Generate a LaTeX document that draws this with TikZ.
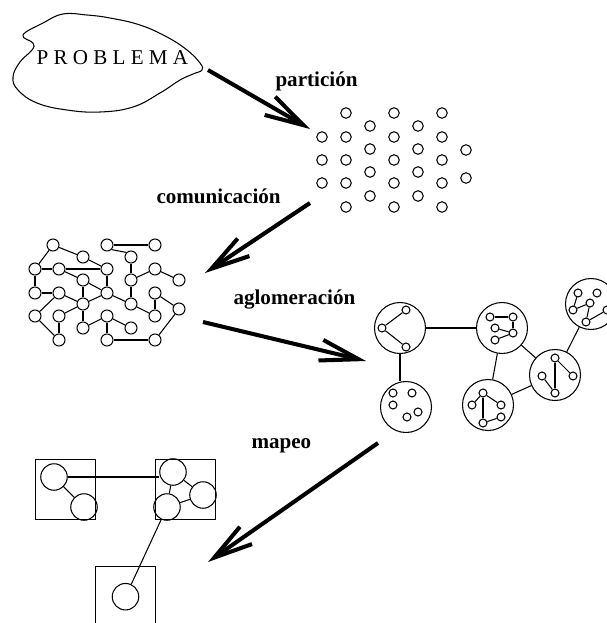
\documentclass[tikz,border=0pt]{standalone}
\usepackage{fontspec}
\setmainfont{Liberation Serif}
\usetikzlibrary{arrows.meta}

\begin{document}
\begin{tikzpicture}[x=0.02cm, y=-0.02cm, line width=0.6pt,
  dot/.style={draw, circle, minimum size=0.21cm, inner sep=0pt},
  tarea/.style={draw, circle, minimum size=0.24cm, inner sep=0pt},
  grupo/.style={draw, circle, minimum size=1.02cm, inner sep=0pt},
  sub/.style={draw, circle, minimum size=0.16cm, inner sep=0pt},
  proc/.style={draw, minimum size=1.2cm, inner sep=0pt},
  cpu/.style={draw, circle, minimum size=0.53cm, inner sep=0pt},
  flecha/.style={line width=2.3pt, -{Straight Barb[length=22pt,width=12pt]}},
  etiqueta/.style={font=\fontsize{12}{14}\selectfont\bfseries, inner sep=0pt, anchor=base west}]
\clip (0,0) rectangle (607,623);
% problema
\draw plot[smooth cycle, tension=0.7] coordinates {(23,35) (43,23) (63,14) (87,15) (110,18) (140,25) (167,37) (187,50) (200,63) (202,70) (193,74) (180,80) (160,93) (133,107) (100,112) (67,110) (37,103) (18,90) (13,77) (20,62) (32,50) (33,43)};
\node[font=\fontsize{12}{14}\selectfont, inner sep=0pt, anchor=base west] (problema) at (36,64) {P R O B L E M A};
% particion
\node[dot] (p1) at (322,137) {};
\node[dot] (p2) at (322,160) {};
\node[dot] (p3) at (322,183) {};
\node[dot] (p4) at (346,113) {};
\node[dot] (p5) at (346,137) {};
\node[dot] (p6) at (346,160) {};
\node[dot] (p7) at (346,183) {};
\node[dot] (p8) at (346,207) {};
\node[dot] (p9) at (370,126) {};
\node[dot] (p10) at (370,149) {};
\node[dot] (p11) at (370,172) {};
\node[dot] (p12) at (370,196) {};
\node[dot] (p13) at (394,113) {};
\node[dot] (p14) at (394,137) {};
\node[dot] (p15) at (394,160) {};
\node[dot] (p16) at (394,183) {};
\node[dot] (p17) at (394,207) {};
\node[dot] (p18) at (418,126) {};
\node[dot] (p19) at (418,149) {};
\node[dot] (p20) at (418,172) {};
\node[dot] (p21) at (418,196) {};
\node[dot] (p22) at (442,113) {};
\node[dot] (p23) at (442,137) {};
\node[dot] (p24) at (442,160) {};
\node[dot] (p25) at (442,183) {};
\node[dot] (p26) at (442,207) {};
\node[dot] (p27) at (466,150) {};
\node[dot] (p28) at (466,178) {};
% comunicacion
\node[tarea] (t1) at (53,245) {};
\node[tarea] (t2) at (107,245) {};
\node[tarea] (t3) at (155,245) {};
\node[tarea] (t4) at (83,257) {};
\node[tarea] (t5) at (131,257) {};
\node[tarea] (t6) at (35,269) {};
\node[tarea] (t7) at (59,269) {};
\node[tarea] (t8) at (107,269) {};
\node[tarea] (t9) at (155,269) {};
\node[tarea] (t10) at (83,280) {};
\node[tarea] (t11) at (131,280) {};
\node[tarea] (t12) at (179,280) {};
\node[tarea] (t13) at (35,293) {};
\node[tarea] (t14) at (59,293) {};
\node[tarea] (t15) at (107,293) {};
\node[tarea] (t16) at (155,293) {};
\node[tarea] (t17) at (83,304) {};
\node[tarea] (t18) at (131,304) {};
\node[tarea] (t19) at (179,309) {};
\node[tarea] (t20) at (35,316) {};
\node[tarea] (t21) at (59,316) {};
\node[tarea] (t22) at (107,316) {};
\node[tarea] (t23) at (155,316) {};
\node[tarea] (t24) at (83,328) {};
\node[tarea] (t25) at (131,328) {};
\node[tarea] (t26) at (59,340) {};
\node[tarea] (t27) at (107,340) {};
\node[tarea] (t28) at (155,340) {};
\draw (t1) -- (t4);
\draw (t1) -- (t6);
\draw (t2) -- (t3);
\draw (t2.south east) -- (t5.north west);
\draw (t4) -- (t8);
\draw (t6) -- (t7);
\draw (t7) -- (t8);
\draw (t7) -- (t10);
\draw (t8) -- (t15);
\draw (t5) -- (t11);
\draw (t11) -- (t9);
\draw (t9) -- (t12);
\draw (t11) -- (t18);
\draw (t10) -- (t15);
\draw (t10) -- (t17);
\draw (t6) -- (t13);
\draw (t13) -- (t14);
\draw (t14) -- (t17);
\draw (t17) -- (t15);
\draw (t15) -- (t18);
\draw (t18) -- (t23);
\draw (t16) -- (t23);
\draw (t16) -- (t19);
\draw (t19) -- (t28);
\draw (t20) -- (t14);
\draw (t21) -- (t17);
\draw (t17) -- (t24);
\draw (t24) -- (t22);
\draw (t22) -- (t25);
\draw (t22) -- (t27);
\draw (t21) -- (t26);
\draw (t20) -- (t26);
\draw (t27) -- (t28);
% aglomeracion
\node[grupo] (g1) at (400,328) {};
\node[grupo] (g2) at (502,328) {};
\node[grupo] (g3) at (406,407) {};
\node[grupo] (g4) at (488,405) {};
\node[grupo] (g5) at (555,375) {};
\node[grupo] (g6) at (591,304) {};
\node[sub] (s1a) at (406,310) {};
\node[sub] (s1b) at (382,328) {};
\node[sub] (s1c) at (406,347) {};
\node[sub] (s2a) at (490,317) {};
\node[sub] (s2b) at (513,317) {};
\node[sub] (s2c) at (495,328) {};
\node[sub] (s2d) at (513,333) {};
\node[sub] (s2e) at (495,340) {};
\node[sub] (s3a) at (393,393) {};
\node[sub] (s3b) at (412,393) {};
\node[sub] (s3c) at (393,405) {};
\node[sub] (s3d) at (418,412) {};
\node[sub] (s3e) at (407,417) {};
\node[sub] (s4a) at (483,393) {};
\node[sub] (s4b) at (501,405) {};
\node[sub] (s4c) at (472,405) {};
\node[sub] (s4d) at (501,417) {};
\node[sub] (s4e) at (483,423) {};
\node[sub] (s5a) at (555,358) {};
\node[sub] (s5b) at (542,376) {};
\node[sub] (s5c) at (573,376) {};
\node[sub] (s5d) at (555,393) {};
\node[sub] (s6a) at (578,293) {};
\node[sub] (s6b) at (597,293) {};
\node[sub] (s6c) at (590,303) {};
\node[sub] (s6d) at (573,310) {};
\node[sub] (s6e) at (607,310) {};
\node[sub] (s6f) at (586,322) {};
\draw (s1b) -- (s1a);
\draw (s1b) -- (s1c);
\draw (s2a) -- (s2b);
\draw (s2b) -- (s2d);
\draw (s2c) -- (s2d);
\draw (s2e) -- (s2d);
\draw (s4a) -- (s4b);
\draw (s4a) -- (s4e);
\draw (s4c) -- (s4a);
\draw (s4e) -- (s4d);
\draw (s5a) -- (s5d);
\draw (s5a) -- (s5c);
\draw (s5b) -- (s5d);
\draw (s6d) -- (s6a);
\draw (s6d) -- (s6c);
\draw (s6c) -- (s6f);
\draw (s6f) -- (s6e);
\draw (g1) -- (g2);
\draw (g1.south) -- (g1.south |- g3.north);
\draw (g2) -- (g4);
\draw (g2) -- (g5);
\draw (g4) -- (g5);
\draw (g5) -- (g6);
% mapeo
\node[proc] (m1) at (65.7,489.3) {};
\node[proc] (m2) at (185.2,489.3) {};
\node[proc] (m3) at (125.5,596.7) {};
\node[cpu] (q1a) at (54,477) {};
\node[cpu] (q1b) at (84,507) {};
\node[cpu] (q2a) at (173,472) {};
\node[cpu] (q2b) at (203,495) {};
\node[cpu] (q2c) at (167,507) {};
\node[cpu] (q3a) at (125.5,596.7) {};
\draw (q1a) -- (q1b);
\draw (q1a.east) -- (q2a.west |- q1a.east);
\draw (q2a) -- (q2b);
\draw (q2b) -- (q2c);
\draw (q2a) -- (q2c);
\draw (q2c) -- (q3a);
% flechas
\coordinate (a1s) at (208,70);
\coordinate (a1e) at (310,129);
\coordinate (a2s) at (310,203);
\coordinate (a2e) at (205,273);
\coordinate (a3s) at (203,322);
\coordinate (a3e) at (366,361);
\coordinate (a4s) at (378,443);
\coordinate (a4e) at (208,562);
\draw[flecha] (a1s) -- (a1e);
\draw[flecha] (a2s) -- (a2e);
\draw[flecha] (a3s) -- (a3e);
\draw[flecha] (a4s) -- (a4e);
\node[etiqueta] (lpart) at (275,86) {partición};
\node[etiqueta] (lcom) at (156,203) {comunicación};
\node[etiqueta] (laglo) at (233,304) {aglomeración};
\node[etiqueta] (lmap) at (251,448) {mapeo};
\end{tikzpicture}
\end{document}
